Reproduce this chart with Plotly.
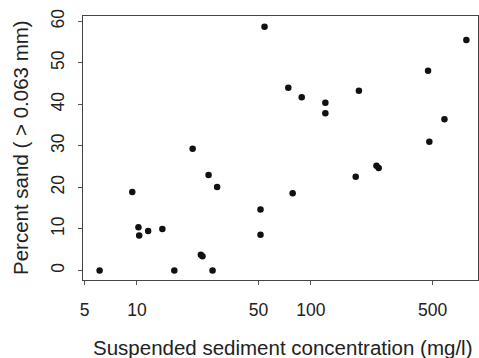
import plotly.graph_objects as go

# Suspended sediment concentration (mg/l) and percent sand (> 0.063 mm)
concentration = [6.1, 9.4, 10.2, 10.3, 11.6, 14.0, 16.4, 20.9, 25.8, 28.9,
                 23.3, 23.8, 27.2, 54.1, 74.1, 88.5, 121, 121, 188.6, 51.3,
                 51.3, 78.5, 180.8, 782, 471, 585, 479, 238, 245]
percent_sand = [0.0, 18.9, 10.4, 8.4, 9.5, 10.0, 0.0, 29.3, 23.0, 20.1,
                3.8, 3.4, 0.0, 58.7, 44.0, 41.7, 40.4, 37.9, 43.3, 14.7,
                8.6, 18.6, 22.6, 55.5, 48.1, 36.4, 31.0, 25.2, 24.7]

x_ticks = [5, 10, 50, 100, 500]
y_ticks = [0, 10, 20, 30, 40, 50, 60]

FONT = "Liberation Sans, Arial, sans-serif"
INK = "#222222"
TICK_SIZE = 17.5
TITLE_SIZE = 20.5

fig = go.Figure(
    go.Scatter(
        x=concentration,
        y=percent_sand,
        mode="markers",
        marker=dict(size=6.5, color="#111111", line=dict(width=0)),
        hoverinfo="x+y",
    )
)

fig.update_layout(
    width=479,
    height=358,
    margin=dict(l=83, r=1, t=16, b=78),
    paper_bgcolor="white",
    plot_bgcolor="white",
    showlegend=False,
    font=dict(family=FONT, size=TICK_SIZE, color=INK),
    annotations=[
        dict(
            text="Suspended sediment concentration (mg/l)",
            xref="paper", yref="paper", x=0.505, y=0,
            xanchor="center", yanchor="middle", yshift=-67,
            showarrow=False, font=dict(family=FONT, size=TITLE_SIZE, color=INK),
        ),
        dict(
            text="Percent sand ( > 0.063 mm)",
            xref="paper", yref="paper", x=0, y=0.5,
            xanchor="center", yanchor="middle", xshift=-63, textangle=-90,
            showarrow=False, font=dict(family=FONT, size=TITLE_SIZE, color=INK),
        ),
    ],
)

fig.update_xaxes(
    type="log",
    range=[0.69, 2.96],
    tickvals=x_ticks,
    ticktext=[str(v) for v in x_ticks],
    ticks="outside",
    ticklen=4,
    tickcolor="#555555",
    ticklabelstandoff=10,
    showgrid=False,
    zeroline=False,
    showline=True,
    linecolor="#444444",
    linewidth=1.3,
    mirror=True,
    tickfont=dict(family=FONT, size=TICK_SIZE, color=INK),
)

fig.update_yaxes(
    range=[-2.3, 61.3],
    tickvals=y_ticks,
    ticks="outside",
    ticklen=4,
    tickcolor="#555555",
    tickangle=-90,
    ticklabelstandoff=7,
    showgrid=False,
    zeroline=False,
    showline=True,
    linecolor="#444444",
    linewidth=1.3,
    mirror=True,
    tickfont=dict(family=FONT, size=TICK_SIZE, color=INK),
)

fig.write_html("out.html")
